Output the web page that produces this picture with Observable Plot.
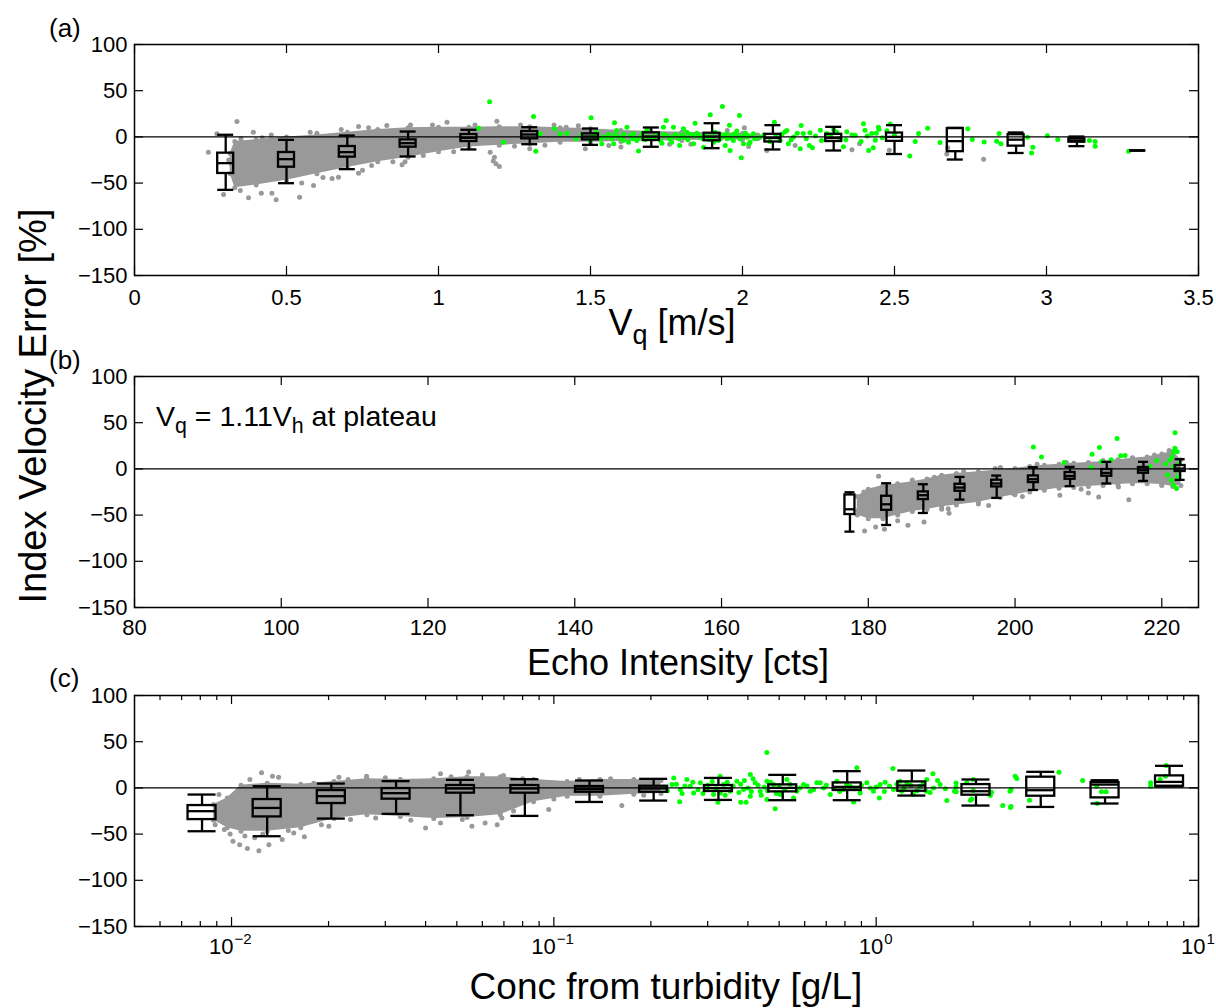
<!DOCTYPE html>
<html><head><meta charset="utf-8">
<script src="https://cdn.jsdelivr.net/npm/d3@7"></script>
<script src="https://cdn.jsdelivr.net/npm/@observablehq/plot@0.6"></script>
<style>
body{margin:0;background:#fff;}
#wrap{position:relative;width:1216px;height:1008px;background:#fff;font-family:"Liberation Sans",Arial,Helvetica,sans-serif;color:#000;}
.pl{position:absolute;left:0;}
.lbl{position:absolute;white-space:nowrap;line-height:1;}
.sub{font-size:0.75em;position:relative;top:0.32em;}
</style></head><body><div id="wrap"></div>
<script>
// ---------------- shared ----------------
const yTicks = [-150, -100, -50, 0, 50, 100];

// ---------------- panel (a): V_q [m/s] ----------------
const xTicksA = [0, 0.5, 1, 1.5, 2, 2.5, 3, 3.5];
const binsA = [0.3, 0.5, 0.7, 0.9, 1.1, 1.3, 1.5, 1.7, 1.9, 2.1, 2.3, 2.5, 2.7, 2.9, 3.1, 3.3];
const loA  = [-57.3, -50.1, -34.9, -21.2, -13.6, -7.9, -8.6, -10.7, -12.2, -13.6, -14.7, -18.5, -24.5, -17.4, -10, -14.7];
const q1A  = [-39.6, -32.8, -21.9, -11.1, -5, -2.1, -3.2, -3.9, -4.2, -5.5, -5, -4.8, -16, -10, -5.7, -14.7];
const medA = [-28.4, -24.1, -16.5, -6.8, -1.0, 2.6, 0.4, 0.4, 0.4, -1.2, -1.2, 0, -4.6, -3, -3.9, -14.7];
const q3A  = [-17.6, -16.9, -10.4, -3.2, 2.6, 5.8, 3.3, 4.4, 4.0, 2.8, 2.8, 4.2, 9.0, 2.4, -2.1, -14.7];
const hiA  = [2.3, -3.2, 1.5, 5.8, 7.7, 10.5, 9.1, 10.2, 14.8, 12.7, 10.9, 12.7, 9.8, 4.8, 0.4, -14.7];
// dense grey cloud envelope: [Vq, lower, upper]
const cloudA = [[0.315,-40,-18],[0.33,-55,-5],[0.40,-52,-3],[0.50,-47,0],[0.60,-40,2],[0.70,-33,5],[0.80,-27,8],[0.90,-22,10],[1.00,-16,10.5],[1.10,-11,10.5],[1.20,-9,11],[1.30,-7.5,11],[1.40,-5.7,10],[1.50,-5.7,8.8],[1.60,-5,7],[1.80,-4,5],[2.00,-3,4],[2.05,-2,2]];
const greyA = [[0.243,-16.5],[0.271,3.4],[0.293,-62.3],[0.337,16.7],[0.348,-58],[0.375,-65.9],[0.391,5.1],[0.417,-60.9],[0.452,-60.9],[0.466,-68],[0.543,-65.2],[0.578,5.1],[0.589,-52.6],[0.671,-43.6],[0.737,-39.3],[0.737,11.3],[0.83,12.3],[0.88,-30.2],[0.89,-27],[0.908,13],[1.028,15.9],[1.17,-16.5],[1.18,-26],[1.184,-22],[1.189,-29.1],[1.2,-32],[1.192,17],[1.30,-12.9],[1.483,-12.9],[2.006,9.8],[2.02,-10.4],[2.08,-14.7],[2.173,-9.3],[2.36,-14],[2.385,-7.5],[2.483,-14.4],[2.672,-18.4],[2.675,-11.8],[2.793,-24.1],
 [0.32,-30],[0.31,-25],[0.35,-2],[0.42,-1],[0.45,2],[0.55,-50],[0.62,-44],[0.65,-45],[0.75,-36],[0.78,-31],[0.85,-27],[0.95,-20],[1.05,-16],[1.25,-10],[1.35,-9],[0.6,4],[0.68,8],[0.77,10],[0.98,13],[1.12,13],[1.27,13],[1.38,13],[1.42,10.5],[1.46,12],[1.56,-9.3],[1.6,-11],[1.76,-8],[1.69,7],[1.83,-8],[1.95,7]];
const greenA = [[1.132,9.4],[1.168,38.0],[1.214,-5.7],[1.3125,22.1],[1.32,-15.5],[1.335,3.3],[1.382,8.7],[1.4,3.3],[1.423,4.0],[1.453,-2.1],[1.499,-3.9],[1.502,20.7],[1.52,5.1],[1.537,-7.5],[1.553,-0.3],[1.57,-2.1],[1.576,-7.5],[1.579,15.2],[1.586,6.9],[1.608,-3.9],[1.62,10.5],[1.625,-5.7],[1.641,3.3],[1.652,-3.9],[1.658,-15.2],[1.685,6.9],[1.707,-2.1],[1.735,-6.8],[1.74,10.5],[1.749,17.7],[1.751,1.5],[1.767,-5.7],[1.773,10.5],[1.793,-9.3],[1.795,-0.3],[1.806,8.7],[1.817,5.1],[1.839,-7.5],[1.844,14.7],[1.861,-0.3],[1.872,-11.1],[1.894,23.9],[1.905,-5.7],[1.927,-2.1],[1.934,32.9],[1.943,-9.3],[1.948,3.3],[1.957,12.5],[1.959,-14.7],[1.97,-3.9],[1.981,6.5],[1.99,23.2],[1.992,-2.1],[1.996,-22.7],[2.003,-7.5],[2.014,-0.3],[2.022,-7.5],[2.025,-5.5],[2.036,3.3],[2.058,-0.3],[2.105,15.9],[2.124,-3.9],[2.14,5.5],[2.146,6.9],[2.151,-7.5],[2.168,0],[2.19,-12.9],[2.193,12.3],[2.2,3.7],[2.222,4.4],[2.22,-9.3],[2.23,-11.8],[2.256,7.3],[2.277,3.7],[2.3,8],[2.321,-1.7],[2.332,-10.6],[2.343,5.5],[2.371,1.9],[2.398,14.2],[2.403,7.3],[2.415,-14.7],[2.425,3.7],[2.43,-11.8],[2.437,-3.6],[2.447,10.5],[2.449,8.3],[2.475,6.7],[2.486,13.9],[2.55,-20.8],[2.568,-5.1],[2.579,3.6],[2.609,9.3],[2.65,-6.1],[2.741,8.7],[2.756,-2.7],[2.795,-5.4],[2.836,-4.6],[2.844,3.8],[2.85,-7.5],[2.938,-0.3],[2.951,-17.3],[2.955,-11.1],[3.003,1.2],[3.037,-2.7],[3.117,-3.8],[3.141,-3.8],[3.16,-4.9],[3.16,-10],[3.27,-15.5],
 [1.51,1],[1.53,-2],[1.56,3],[1.59,0],[1.6,-1],[1.63,1],[1.66,-1],[1.67,4],[1.69,0],[1.72,2],[1.73,-4],[1.76,-2],[1.78,3],[1.8,2],[1.82,-3],[1.84,1],[1.85,4],[1.87,-2],[1.88,2],[1.9,0],[1.91,5],[1.92,-4],[1.94,1],[1.96,-1],[1.98,2],[2.0,1],[2.01,4],[2.04,-2],[2.07,2],[2.09,-5],[2.11,1],[2.13,3],[2.16,-3],[2.18,4],[2.21,-2],[2.24,1],[2.26,-4],[2.29,2],[2.31,5],[2.34,-3],[2.36,2],[2.39,-5],[2.41,1],[2.44,4],[2.46,-1],[2.5,2],
 [1.47,2],[1.49,-1],[1.54,0],[1.58,2],[1.61,3],[1.64,-2],[1.68,-3],[1.71,0],[1.74,3],[1.77,0],[1.79,-2],[1.81,0],[1.83,3],[1.86,1],[1.89,-3],[1.93,2],[1.95,-2],[1.97,3],[1.99,-1],[2.02,1]];

// ---------------- panel (b): Echo Intensity [cts] ----------------
const xTicksB = [80, 100, 120, 140, 160, 180, 200, 220];
const binsB = [177.5, 182.5, 187.5, 192.5, 197.5, 202.5, 207.5, 212.5, 217.5, 222.5];
const loB  = [-67.9, -60.7, -47.7, -33.2, -31.4, -22.8, -18.7, -15.8, -13, -11.9];
const q1B  = [-49.4, -44.8, -33.2, -24.2, -19.5, -14.8, -11.2, -7.9, -4.7, -2.8];
const medB = [-43.7, -38.3, -28.5, -20.2, -15.8, -11.2, -7.6, -4.3, -1.4, 0.4];
const q3B  = [-28.2, -29.6, -24.9, -16.6, -12.2, -7.6, -3.9, -0.7, 1.5, 3.7];
const hiB  = [-25.3, -15.5, -16.6, -8.7, -7.2, 1.8, 2.2, 7.6, 7.6, 10.5];
const cloudB = [[178.5,-50,-30],[180,-54,-22],[182,-54,-18],[184,-50,-16],[186,-46,-14],[188,-44,-11],[190,-41,-7],[192,-39,-5],[195,-36,-3],[198,-31,-1],[200,-28,0.5],[202,-25,2.5],[204,-23,4],[206,-21,5],[208,-20,6],[210,-19,7],[212,-18,8],[214,-17,10],[216,-16,11.5],[218,-16,13],[220,-17,16],[221.5,-19,19],[222.6,-18,10]];
const greyB = [[179.4,-24.9],[179.5,-67.2],[181,-62.9],[181.4,-8],[182.2,-65.4],[185.4,-61.1],[187.6,-57.5],[190,-43.8],[190.9,-43.1],[196.4,-39.5],[197.3,0.4],[199.8,-26.9],[205.5,2.2],[206.1,-28.6],[210,-26.2],[211.4,-30.5],[214.1,-19.6],[215.5,-33.3],
 [178.6,-45],[179,-35],[183,-20],[184,-56],[186,-12],[189,-9],[191,-48],[193,-3],[195,-38],[198,1.5],[201,-30],[203,5],[207,7],[209,-22],[212,9],[216,12],[219,15],[220,-18],[221,20]];
const greenB = [[202.5,23.8],[203.6,13],[206.7,6.9],[210.4,1.5],[210.5,15.9],[211.5,23.1],[211.8,8.1],[213.1,9.9],[213.9,32.9],[214.4,14.2],[215,14.5],[218.4,2.6],[219.3,9.1],[220.5,5.4],[220.8,-6.5],[221.1,9.6],[221.3,-12.2],[221.4,13.2],[221.6,18.6],[221.6,-17.6],[221.6,2.2],[221.8,39.2],[221.8,22.3],[221.9,-1.4],[222,-21.2],[222.1,18.6],[222.2,-8.6],[222.4,5.9]];

// ---------------- panel (c): Conc from turbidity [g/L] (log) ----------------
const xMajorC = [0.01, 0.1, 1, 10];
const xMinorC = [0.006,0.007,0.008,0.009,0.02,0.03,0.04,0.05,0.06,0.07,0.08,0.09,0.2,0.3,0.4,0.5,0.6,0.7,0.8,0.9,2,3,4,5,6,7,8,9];
const binsC = [0.0081, 0.0129, 0.0204, 0.0324, 0.0513, 0.0813, 0.129, 0.204, 0.324, 0.513, 0.813, 1.29, 2.04, 3.24, 5.13, 8.13];
const loC  = [-46.9, -52.3, -33.2, -28.1, -29.6, -30.3, -15.2, -13.7, -13.0, -13.3, -13.3, -8.3, -19.1, -20.6, -16.9, 1.5];
const q1C  = [-34.3, -31.4, -16.9, -12.2, -5.7, -5.7, -4.7, -4.7, -3.9, -4.3, -2.8, -3.6, -7.9, -9, -10.8, 1.8];
const medC = [-25.2, -21.7, -9.0, -5.7, -0.7, -0.7, -1.4, -0.7, -0.3, 0, 1.1, 2.6, -3.6, -2.5, 3.6, 6.5];
const q3C  = [-19.1, -12.6, -2.9, -0.7, 2.6, 2.6, 1.5, 1.8, 2.6, 3.3, 5.4, 6.5, 3.6, 11.6, 5.8, 13];
const hiC  = [-7.2, 1.8, 4.7, 7.3, 8.7, 9.4, 8.0, 9.8, 10.8, 14.1, 18.1, 18.8, 9.1, 17.4, 8.3, 23.9];
const cloudC = [[0.0088,-35,-18],[0.0097,-43,-11],[0.0107,-47,3],[0.0129,-47,5],[0.0164,-43,4],[0.0208,-33,7],[0.0263,-29,10],[0.0334,-31,9],[0.0424,-33,10],[0.0538,-32,12],[0.0682,-29,12],[0.0865,-15,9],[0.11,-9,7],[0.139,-9,9],[0.177,-7,9],[0.215,-6,8]];
const greyC = [[0.00914,-7.2],[0.0101,-57.8],[0.0106,-61.4],[0.0112,-65.7],[0.0114,9],[0.01216,-67.9],[0.01239,16.3],[0.01306,-61.4],[0.0134,12.7],[0.014,11.6],[0.01436,-55.9],[0.0156,-48.7],[0.01683,-53],[0.02004,-41.5],[0.02153,11.6],[0.0234,-34.3],[0.02624,12.7],[0.028,-32.5],[0.04,-43.3],[0.0445,15.2],[0.0445,-38],[0.052,-34.3],[0.0544,17.3],[0.0557,-41.5],[0.0612,-38],[0.0667,-39.8],[0.069,-32.5],[0.0698,13.5],[0.0964,-23.4],[0.1625,-19.1],
 [0.0089,-40],[0.0092,-30],[0.0095,-45],[0.0099,-50],[0.0104,-5],[0.011,-52],[0.0118,-54],[0.0125,-50],[0.015,-46],[0.018,5],[0.019,-40],[0.023,9],[0.03,11],[0.036,-35],[0.048,12],[0.06,14],[0.075,-25],[0.08,10],[0.1,-12],[0.12,9],[0.15,10],[0.19,-8],[0.2,8]];
const greenC = [[0.2325,3.6],[0.2467,-1.8],[0.2587,9.1],[0.2714,-5.4],[0.2847,5.5],[0.2985,0],[0.313,-7.2],[0.3362,3.6],[0.3526,-3.6],[0.3698,7.3],[0.3878,-1.8],[0.4067,-9],[0.4214,5.5],[0.4368,-3.6],[0.4581,-12.6],[0.4803,3.6],[0.5038,-7.2],[0.5284,9.1],[0.5675,-3.6],[0.5952,3.6],[0.6242,-3.6],[0.6546,5.5],[0.6866,0],[0.7201,-7.2],[0.7551,7.3],[0.7919,-1.8],[0.8307,1.8],[0.892,-5.4],[0.9354,5.5],[0.981,-3.6],[1.029,3.6],[1.132,-1.8],[1.245,5.5],[1.305,-7.2],[1.369,1.8],[1.436,9.1],[1.506,0],[1.579,3.6],[0.3283,-5.4],[0.265,1.8],[0.4581,7.3],[0.5542,-10.8],[0.6705,5.5],[0.958,0],[1.187,7.3],
 [0.22,1],[0.225,-3],[0.24,4],[0.25,-6],[0.255,2],[0.27,6],[0.28,-2],[0.29,-6],[0.3,3],[0.31,7],[0.32,-1],[0.34,-8],[0.345,6],[0.36,2],[0.375,-5],[0.38,4],[0.39,8],[0.4,0],[0.41,-4],[0.415,10],[0.43,3],[0.44,-8],[0.45,1],[0.46,-3],[0.47,6],[0.49,-6],[0.5,2],[0.52,-2],[0.54,4],[0.58,0],[0.61,2],[0.64,-2],[0.7,3],[0.74,0],[0.77,-4],[0.81,4],[0.86,-1],[0.9,3],[1.0,1],[1.06,-4],[1.1,2],[1.16,4],[1.22,0],[1.28,3],[1.34,-3],[1.4,5],[1.47,-5],[1.55,8],[1.64,-1],
 [0.2456,-15.1],[0.323,-15.5],[0.38,-15.5],[0.395,-15.5],[0.2355,10.8],[0.328,12.6],[0.407,14.4],[0.458,38.3],[0.486,-22.7],[0.851,-15.2],[0.871,21.7],[1.023,-10.8],[1.066,6.1],[1.127,21],[1.2,-3.6],[1.43,-3.6],[1.5,15.2],[1.657,-13.7],[1.75,-3.6],[1.77,5.4],[1.77,-4.3],[1.77,0.8],[1.91,5.5],[1.96,-13.4],[1.98,-11.9],[2.0,9.1],[2.0,-2.9],[2.26,-8.3],[2.28,-4.7],[2.47,-19.1],[2.61,-21.3],[2.6,-3.6],[2.62,-1.8],[2.62,-20.2],[2.7,12.6],[2.73,10.1],[2.99,-13.3],[3.69,16.9],[4.37,8.0],[4.83,1.8],[4.85,-16.9],[5.0,-4.3],[5.17,-4.3],[7.1,5.5],[7.1,1.8],[7.6,9.1],[7.9,12.6],[7.94,24.2]];

// ---------------- drawing ----------------
const GREY = "#999999", GREEN = "#00ff00";
const FONT = "Liberation Sans, Arial, Helvetica, sans-serif";
const W = 1216, ML = 134, MR = 18, FH = 231, FW = W - ML - MR;
const TICK = 9, MINOR = 5, FS = 22;
const fmtY = d => d < 0 ? "\u2212" + (-d) : String(d);
const pts = a => a.map(([x, y]) => ({x, y}));

function boxMarks(xs, lo, q1, med, q3, hi, halfPx, pxPerUnit, isLog) {
  const rows = xs.map((x, i) => {
    const h = halfPx / pxPerUnit;
    return {x, lo: lo[i], q1: q1[i], med: med[i], q3: q3[i], hi: hi[i],
      xa: isLog ? x / Math.pow(10, h) : x - h, xb: isLog ? x * Math.pow(10, h) : x + h};
  });
  const st = {stroke: "black", strokeWidth: 2.3};
  return [
    Plot.ruleX(rows, {x: "x", y1: "lo", y2: "q1", ...st}),
    Plot.ruleX(rows, {x: "x", y1: "q3", y2: "hi", ...st}),
    Plot.rect(rows, {x1: "xa", x2: "xb", y1: "q1", y2: "q3", fill: "none", ...st}),
    Plot.ruleY(rows, {y: "med", x1: "xa", x2: "xb", ...st}),
    Plot.ruleY(rows, {y: "lo", x1: "xa", x2: "xb", ...st}),
    Plot.ruleY(rows, {y: "hi", x1: "xa", x2: "xb", ...st})
  ];
}

function panel(o) {
  const cloud = o.cloud.map(([x, lo, hi]) => ({x, lo, hi}));
  const tk = {stroke: "black", strokeWidth: 1.2};
  const marks = [
    Plot.areaY(cloud, {x: "x", y1: "lo", y2: "hi", fill: GREY}),
    Plot.dot(cloud, {x: "x", y: "lo", r: 2.5, fill: GREY}),
    Plot.dot(cloud, {x: "x", y: "hi", r: 2.5, fill: GREY}),
    Plot.dot(pts(o.grey), {x: "x", y: "y", r: 2.5, fill: GREY}),
    Plot.dot(pts(o.green), {x: "x", y: "y", r: 2.5, fill: GREEN}),
    Plot.ruleY([0], {stroke: "black", strokeWidth: 1.1}),
    ...boxMarks(o.bins, o.lo, o.q1, o.med, o.q3, o.hi, o.halfPx, o.pxPerUnit, o.isLog),
    Plot.frame({stroke: "black", strokeWidth: 1.5}),
    Plot.tickX(o.xTicks, {x: d => d, insetTop: FH - TICK, ...tk}),
    Plot.tickX(o.xTicks, {x: d => d, insetBottom: FH - TICK, ...tk}),
    Plot.tickY(yTicks, {y: d => d, insetRight: FW - TICK, ...tk}),
    Plot.tickY(yTicks, {y: d => d, insetLeft: FW - TICK, ...tk}),
    Plot.axisY(yTicks, {tickSize: 0, tickPadding: 7, tickFormat: fmtY, fontSize: FS, label: null})
  ];
  if (o.minor) {
    marks.push(Plot.tickX(o.minor, {x: d => d, insetTop: FH - MINOR, ...tk}));
    marks.push(Plot.tickX(o.minor, {x: d => d, insetBottom: FH - MINOR, ...tk}));
  }
  if (o.isLog) {
    const neg = o.xTicks.filter(d => d < 1), pos = o.xTicks.filter(d => d >= 1);
    const ex = d => { const e = Math.round(Math.log10(d)); return e < 0 ? "\u2212" + (-e) : String(e); };
    marks.push(Plot.text(neg, {x: d => d, text: () => "10", frameAnchor: "bottom", textAnchor: "end", dx: 2, dy: 27, fontSize: FS}));
    marks.push(Plot.text(neg, {x: d => d, text: ex, frameAnchor: "bottom", textAnchor: "start", dx: 3, dy: 17, fontSize: 15}));
    marks.push(Plot.text(pos, {x: d => d, text: () => "10", frameAnchor: "bottom", textAnchor: "end", dx: 7, dy: 27, fontSize: FS}));
    marks.push(Plot.text(pos, {x: d => d, text: ex, frameAnchor: "bottom", textAnchor: "start", dx: 8, dy: 17, fontSize: 15}));
  } else {
    marks.push(Plot.axisX(o.xTicks, {tickSize: 0, tickPadding: o.pad, tickFormat: d => String(d), fontSize: FS, label: null}));
  }
  const p = Plot.plot({
    width: W, height: o.mt + FH + o.mb,
    marginLeft: ML, marginRight: MR, marginTop: o.mt, marginBottom: o.mb,
    x: o.isLog ? {type: "log", domain: o.xDomain, axis: null} : {type: "linear", domain: o.xDomain},
    y: {domain: [-150, 100]},
    style: {background: "transparent", fontFamily: FONT, fontSize: FS + "px", color: "black", overflow: "visible"},
    marks
  });
  p.classList.add("pl");
  p.style.top = o.top + "px";
  return p;
}

const wrap = document.getElementById("wrap");
wrap.appendChild(panel({top: 0, mt: 44, mb: 36, pad: 14, xDomain: [0, 3.5], xTicks: xTicksA,
  cloud: cloudA, grey: greyA, green: greenA, bins: binsA, lo: loA, q1: q1A, med: medA, q3: q3A, hi: hiA,
  halfPx: 8, pxPerUnit: FW / 3.5}));
wrap.appendChild(panel({top: 330, mt: 46, mb: 34, pad: 12, xDomain: [80, 225], xTicks: xTicksB,
  cloud: cloudB, grey: greyB, green: greenB, bins: binsB, lo: loB, q1: q1B, med: medB, q3: q3B, hi: hiB,
  halfPx: 5, pxPerUnit: FW / 145}));
wrap.appendChild(panel({top: 660, mt: 35, mb: 46, isLog: true, xDomain: [0.005, 10], xTicks: xMajorC, minor: xMinorC,
  cloud: cloudC, grey: greyC, green: greenC, bins: binsC, lo: loC, q1: q1C, med: medC, q3: q3C, hi: hiC,
  halfPx: 14, pxPerUnit: FW / Math.log10(10 / 0.005)}));

// text labels
function label(html, css) {
  const d = document.createElement("div");
  d.className = "lbl";
  d.innerHTML = html;
  Object.assign(d.style, css);
  wrap.appendChild(d);
}
label("(a)", {left: "49px", top: "15px", fontSize: "26px"});
label("(b)", {left: "49px", top: "347px", fontSize: "26px"});
label("(c)", {left: "49px", top: "665px", fontSize: "26px"});
label("Index Velocity Error [%]", {left: "33px", top: "406px", fontSize: "38px", transform: "translate(-50%,-50%) rotate(-90deg)"});
label('V<span class="sub">q</span> [m/s]', {left: "672px", top: "305px", fontSize: "36px", transform: "translateX(-50%)"});
label("Echo Intensity [cts]", {left: "678px", top: "645px", fontSize: "36px", transform: "translateX(-50%)"});
label("Conc from turbidity [g/L]", {left: "666px", top: "968px", fontSize: "37px", transform: "translateX(-50%)"});
label('V<span class="sub">q</span> = 1.11V<span class="sub">h</span> at plateau', {left: "156px", top: "402px", fontSize: "28.5px"});
</script>
</body></html>
